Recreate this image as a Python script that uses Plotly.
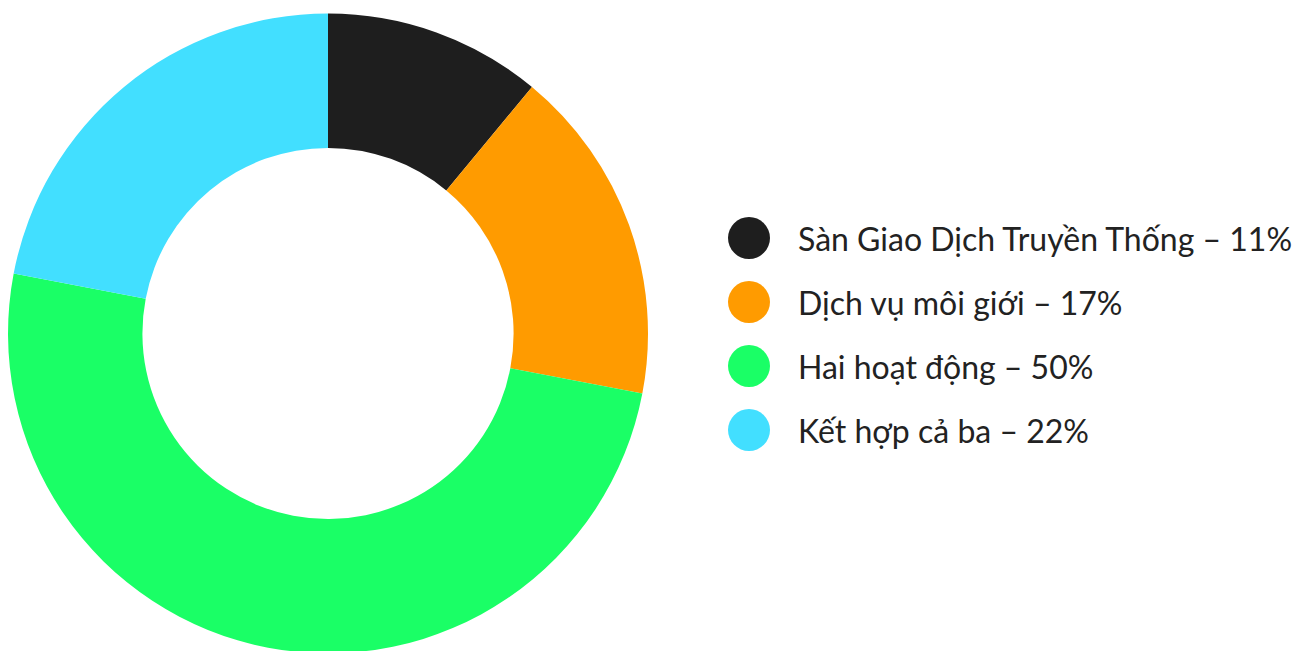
import plotly.graph_objects as go

labels = ["Sàn Giao Dịch Truyền Thống", "Dịch vụ môi giới", "Hai hoạt động", "Kết hợp cả ba"]
values = [11, 17, 50, 22]
colors = ["#1e1e1e", "#ff9b00", "#1aff66", "#42dfff"]

W, H = 1298, 651

fig = go.Figure()
fig.add_trace(go.Pie(
    labels=labels,
    values=values,
    sort=False,
    direction="clockwise",
    rotation=0,
    hole=0.58,
    marker=dict(colors=colors, line=dict(width=0)),
    textinfo="none",
    showlegend=False,
    domain=dict(x=[0, 640 / W], y=[0, 1]),
))

# custom legend: circles + labels
row0, step = 230, 64
cx, r = 741, 21
for i, (lab, val, col) in enumerate(zip(labels, values, colors)):
    cy = row0 + i * step
    fig.add_shape(type="circle", xref="paper", yref="paper",
                  x0=(cx - r) / W, x1=(cx + r) / W,
                  y0=1 - (cy + r) / H, y1=1 - (cy - r) / H,
                  fillcolor=col, line=dict(width=0))
    fig.add_annotation(xref="paper", yref="paper", x=788 / W, y=1 - cy / H,
                       xanchor="left", yanchor="middle", showarrow=False,
                       text=f"{lab} – {val}%",
                       font=dict(family="Lato", size=32, color="#222222"))

fig.update_layout(width=W, height=H, margin=dict(l=0, r=0, t=0, b=0),
                  paper_bgcolor="white", plot_bgcolor="white")
fig.write_html("out.html")
